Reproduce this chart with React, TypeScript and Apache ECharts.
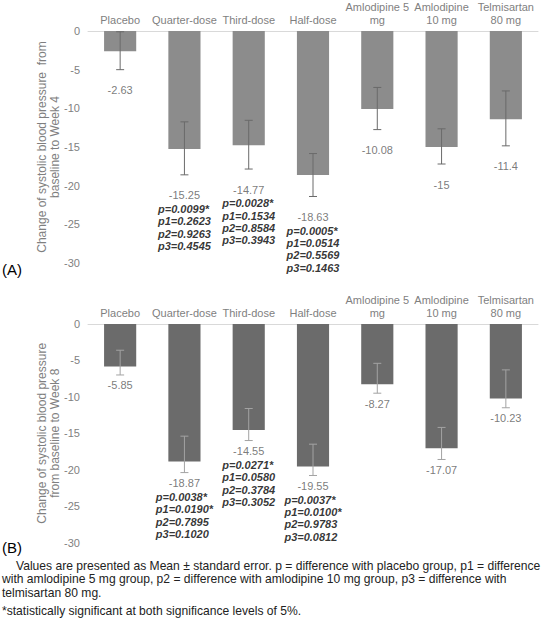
import React, { useEffect, useRef } from "react";
import * as echarts from "echarts";

const categories = [
  "Placebo",
  "Quarter-dose",
  "Third-dose",
  "Half-dose",
  "Amlodipine 5\nmg",
  "Amlodipine\n10 mg",
  "Telmisartan\n80 mg",
];
const yTicks = [0, -5, -10, -15, -20, -25, -30];

const week4Mean = [-2.63, -15.25, -14.77, -18.63, -10.08, -15, -11.4];
const week4Upper = [-0.1, -11.75, -11.55, -15.85, -7.3, -12.65, -7.75];
const week4Lower = [-5.0, -18.6, -17.85, -21.4, -12.75, -17.2, -14.85];
const week4P: (string[] | null)[] = [
  null,
  ["p=0.0099*", "p1=0.2623", "p2=0.9263", "p3=0.4545"],
  ["p=0.0028*", "p1=0.1534", "p2=0.8584", "p3=0.3943"],
  ["p=0.0005*", "p1=0.0514", "p2=0.5569", "p3=0.1463"],
  null,
  null,
  null,
];

const week8Mean = [-5.85, -18.87, -14.55, -19.55, -8.27, -17.07, -10.23];
const week8Upper = [-3.6, -15.4, -11.6, -16.5, -5.4, -14.2, -6.3];
const week8Lower = [-7.0, -20.4, -16.0, -20.8, -9.5, -18.6, -11.5];
const week8P: (string[] | null)[] = [
  null,
  ["p=0.0038*", "p1=0.0190*", "p2=0.7895", "p3=0.1020"],
  ["p=0.0271*", "p1=0.0580", "p2=0.3784", "p3=0.3052"],
  ["p=0.0037*", "p1=0.0100*", "p2=0.9783", "p3=0.0812"],
  null,
  null,
  null,
];

const axisNames = [
  "Change of systolic blood pressure  from\nbaseline to Week 4",
  "Change of systolic blood pressure\nfrom baseline to Week 8",
];
const panelLabels = ["(A)", "(B)"];
const footnoteLines = [
  "Values are presented as Mean \u00b1 standard error. p = difference with placebo group, p1 = difference",
  "with amlodipine 5 mg group, p2 = difference with amlodipine 10 mg group, p3 = difference with",
  "telmisartan 80 mg.",
  "*statistically significant at both significance levels of 5%.",
];

const FONT = "Liberation Sans, Arial, Helvetica, sans-serif";

export default function App() {
  const ref = useRef<HTMLDivElement>(null);
  useEffect(() => {
    if (!ref.current) return;
    const chart = echarts.init(ref.current, null, { renderer: "svg" });

    const grids = [
      { left: 88, right: 9, top: 29, height: 234 },
      { left: 88, right: 9, top: 324, height: 218.5 },
    ];
    const panels = [
      { mean: week4Mean, up: week4Upper, lo: week4Lower, p: week4P, bar: "#8c8c8c", err: "#6a6a6a", dist: 13 },
      { mean: week8Mean, up: week8Upper, lo: week8Lower, p: week8P, bar: "#6b6b6b", err: "#a3a3a3", dist: 3 },
    ];

    const xAxes = grids.map((_, i) => ({
      type: "category",
      gridIndex: i,
      data: categories,
      position: "top",
      axisLine: { show: true, lineStyle: { color: "#d9d9d9", width: 1 } },
      axisTick: { show: false },
      axisLabel: {
        interval: 0,
        color: "#7f7f7f",
        fontSize: 11,
        fontFamily: FONT,
        margin: 5,
        lineHeight: 13,
      },
    }));
    const yAxes = grids.map((_, i) => ({
      type: "value",
      gridIndex: i,
      min: -30,
      max: 0,
      interval: 5,
      axisLine: { show: false },
      axisTick: { show: false },
      splitLine: { show: false },
      axisLabel: {
        color: "#7f7f7f",
        fontSize: 11,
        fontFamily: FONT,
        margin: 8,
        formatter: (v: number) => (yTicks.includes(v) ? String(v) : ""),
      },
      name: axisNames[i],
      nameLocation: "middle",
      nameGap: 27,
      nameMoveOverlap: false,
      nameTextStyle: {
        color: "#7f7f7f",
        fontSize: 12,
        fontFamily: FONT,
        lineHeight: 13,
      },
    }));

    const series: any[] = [];
    panels.forEach((pn, i) => {
      series.push({
        type: "bar",
        xAxisIndex: i,
        yAxisIndex: i,
        data: pn.mean,
        barWidth: "50%",
        itemStyle: { color: pn.bar },
        z: 2,
      });
      series.push({
        type: "custom",
        xAxisIndex: i,
        yAxisIndex: i,
        data: pn.mean.map((_, k) => [k, pn.up[k], pn.lo[k]]),
        encode: { x: 0, y: [1, 2] },
        z: 3,
        renderItem: (params: any, api: any) => {
          const x = api.value(0);
          const a = api.coord([x, api.value(1)]);
          const b = api.coord([x, api.value(2)]);
          const w = 4;
          const st = { stroke: pn.err, lineWidth: 1 };
          return {
            type: "group",
            children: [
              { type: "line", shape: { x1: a[0], y1: a[1], x2: b[0], y2: b[1] }, style: st },
              { type: "line", shape: { x1: a[0] - w, y1: a[1], x2: a[0] + w, y2: a[1] }, style: st },
              { type: "line", shape: { x1: b[0] - w, y1: b[1], x2: b[0] + w, y2: b[1] }, style: st },
            ],
          };
        },
      });
      series.push({
        type: "scatter",
        xAxisIndex: i,
        yAxisIndex: i,
        symbolSize: 0,
        z: 4,
        data: pn.mean.map((m, k) => ({ value: [k, pn.lo[k]], mean: m, p: pn.p[k] })),
        label: {
          show: true,
          position: "bottom",
          distance: pn.dist,
          align: "center",
          formatter: (params: any) => {
            const d = params.data;
            let s = "{v|" + String(d.mean) + "}";
            if (d.p) s += "\n" + d.p.map((t: string) => "{p|" + t + "}").join("\n");
            return s;
          },
          rich: {
            v: { color: "#595959", fontSize: 11, fontFamily: FONT, lineHeight: 15, align: "center" },
            p: {
              color: "#000",
              fontSize: 11,
              fontFamily: FONT,
              fontWeight: "bold",
              fontStyle: "italic",
              lineHeight: 12.4,
              align: "left",
            },
          },
        },
      });
    });

    const fn = "12.1px " + FONT;
    const graphic: any[] = [
      { type: "text", left: 2, top: 262, style: { text: panelLabels[0], font: "15px " + FONT, fill: "#000" } },
      { type: "text", left: 2, top: 540, style: { text: panelLabels[1], font: "15px " + FONT, fill: "#000" } },
      { type: "text", left: 16, top: 560, style: { text: footnoteLines[0], font: fn, fill: "#222" } },
      { type: "text", left: 2, top: 573, style: { text: footnoteLines[1], font: fn, fill: "#222" } },
      { type: "text", left: 2, top: 587, style: { text: footnoteLines[2], font: fn, fill: "#222" } },
      { type: "text", left: 2, top: 605, style: { text: footnoteLines[3], font: fn, fill: "#222" } },
    ];

    chart.setOption({
      animation: false,
      backgroundColor: "#fff",
      textStyle: { fontFamily: FONT },
      grid: grids,
      xAxis: xAxes,
      yAxis: yAxes,
      series,
      graphic,
    });
    return () => chart.dispose();
  }, []);
  return (
    <div
      ref={ref}
      style={{ position: "fixed", left: 0, top: 0, width: 547, height: 641, background: "#fff" }}
    />
  );
}
